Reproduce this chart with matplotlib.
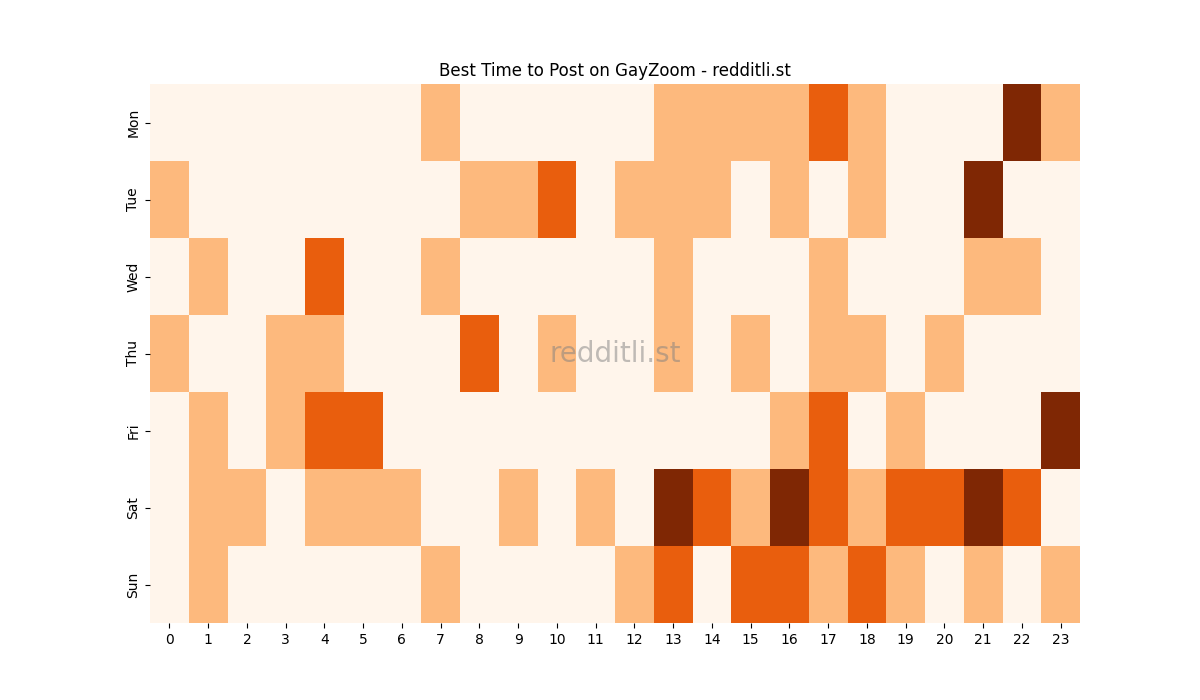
import matplotlib
matplotlib.use("Agg")
import matplotlib.pyplot as plt
import seaborn as sns
import numpy as np

days = ["Mon", "Tue", "Wed", "Thu", "Fri", "Sat", "Sun"]
hours = list(range(24))

mon = [0,0,0,0,0,0,0,1,0,0,0,0,0,1,1,1,1,2,1,0,0,0,3,1]
tue = [1,0,0,0,0,0,0,0,1,1,2,0,1,1,1,0,1,0,1,0,0,3,0,0]
wed = [0,1,0,0,2,0,0,1,0,0,0,0,0,1,0,0,0,1,0,0,0,1,1,0]
thu = [1,0,0,1,1,0,0,0,2,0,1,0,0,1,0,1,0,1,1,0,1,0,0,0]
fri = [0,1,0,1,2,2,0,0,0,0,0,0,0,0,0,0,1,2,0,1,0,0,0,3]
sat = [0,1,1,0,1,1,1,0,0,1,0,1,0,3,2,1,3,2,1,2,2,3,2,0]
sun = [0,1,0,0,0,0,0,1,0,0,0,0,1,2,0,2,2,1,2,1,0,1,0,1]

data = np.array([mon, tue, wed, thu, fri, sat, sun])

fig, ax = plt.subplots(figsize=(12, 7), dpi=100)
sns.heatmap(data, cmap="Oranges", cbar=False, ax=ax,
            xticklabels=hours, yticklabels=days)
ax.set_yticklabels(days, rotation=90, va="center")
ax.set_xticklabels(hours, rotation=0)
ax.set_title("Best Time to Post on GayZoom - redditli.st", fontsize=12)
ax.text(0.5, 0.5, "redditli.st", transform=ax.transAxes, ha="center",
        va="center", fontsize=20, color="gray", alpha=0.5)
fig.savefig("out.png", dpi=100)
